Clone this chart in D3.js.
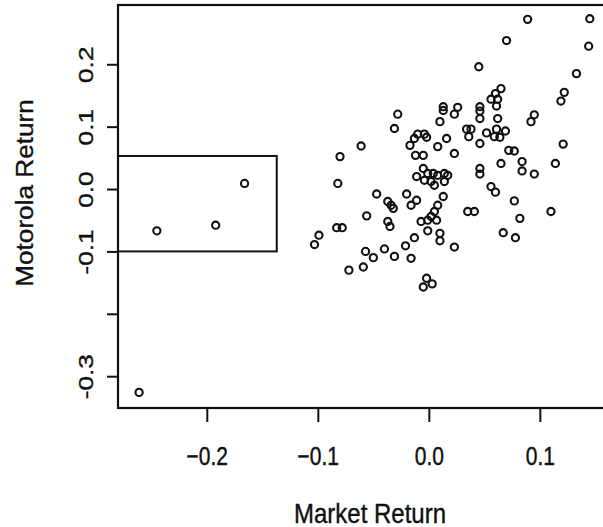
<!DOCTYPE html>
<html>
<head>
<meta charset="utf-8">
<script src="https://cdnjs.cloudflare.com/ajax/libs/d3/7.8.5/d3.min.js"></script>
<style>
  body { margin: 0; background: #fff; }
  svg { display: block; }
  text { font-family: "Liberation Sans", Arial, sans-serif; fill: #111; stroke: #111; stroke-width: 0.35px; }
</style>
</head>
<body>
<div id="chart"></div>
<script>
// market return (x) and motorola return (y)
var marketReturn = [-0.261,-0.245,-0.192,-0.166,
  -0.103,-0.099,-0.083,-0.078,-0.082,-0.080,-0.072,-0.061,-0.059,-0.057,-0.056,-0.050,
  -0.047,-0.040,-0.037,-0.034,-0.032,-0.037,-0.035,-0.031,-0.031,-0.028,-0.020,-0.021,
  -0.016,-0.017,-0.016,-0.011,-0.013,-0.013,-0.010,-0.004,-0.002,-0.012,-0.005,-0.005,
  -0.011,-0.001,0.004,0.008,0.014,0.017,-0.004,0.002,0.005,0.014,-0.007,-0.001,0.002,
  0.005,0.008,0.013,0.007,-0.001,0.010,0.010,-0.002,-0.005,0.003,0.008,0.010,0.013,
  0.013,0.016,0.023,0.023,0.026,0.023,0.034,0.038,0.036,0.035,0.041,0.045,0.046,0.046,
  0.046,0.046,0.046,0.046,0.052,0.056,0.062,0.061,0.062,0.061,0.069,0.059,0.064,0.065,
  0.060,0.056,0.060,0.065,0.067,0.070,0.072,0.077,0.077,0.078,0.082,0.084,0.084,0.089,
  0.092,0.095,0.095,0.110,0.114,0.119,0.122,0.121,0.133,0.144,0.145]
var motorolaReturn = [-0.326,-0.067,-0.058,0.009,
  -0.089,-0.074,-0.062,-0.062,0.009,0.052,-0.130,0.069,-0.125,-0.100,-0.043,-0.110,
  -0.008,-0.096,-0.020,-0.026,-0.031,-0.052,-0.060,-0.108,0.097,0.120,-0.008,-0.091,
  -0.111,0.070,-0.026,-0.018,-0.078,0.081,0.088,0.088,0.083,0.054,0.054,0.033,
  0.020,0.025,0.025,0.022,0.025,0.022,0.014,0.012,0.006,0.012,-0.052,-0.050,-0.044,
  -0.036,-0.026,-0.012,-0.050,-0.067,-0.071,-0.083,-0.143,-0.157,-0.152,0.068,0.108,0.132,
  0.126,0.081,0.057,0.120,0.131,-0.093,0.096,0.096,0.084,-0.036,-0.036,0.196,0.132,0.125,
  0.113,0.073,0.033,0.024,0.090,0.144,0.144,0.133,0.113,0.096,0.093,0.084,0.083,0.161,
  0.153,0.004,-0.005,0.041,-0.070,0.238,0.062,0.061,-0.019,-0.078,-0.047,0.044,0.029,0.272,
  0.108,0.119,0.024,-0.036,0.041,0.141,0.155,0.072,0.185,0.229,0.273]

var xTicks = [-0.2, -0.1, 0.0, 0.1]
var yTicks = [-0.3, -0.2, -0.1, 0.0, 0.1, 0.2]
var yTickLabels = { "-0.3": "-0.3", "-0.1": "-0.1", "0": "0.0", "0.1": "0.1", "0.2": "0.2" }
// highlighted box: x up to -0.137, y between -0.1 and 0.053
var boxX = [-0.28, -0.137]
var boxY = [-0.1, 0.053]

var data = marketReturn.map(function (d, i) { return { x: d, y: motorolaReturn[i] } })

var W = 603, H = 527
var svg = d3.select('#chart').append('svg')
    .attr('width', W)
    .attr('height', H)

var xScale = d3.scaleLinear()
    .domain([-0.28, 0.165])
    .range([118, 612])
var yScale = d3.scaleLinear()
    .domain([-0.351, 0.295])
    .range([408, 5])

// plot frame
svg.append('rect')
    .attr('x', xScale.range()[0])
    .attr('y', yScale.range()[1])
    .attr('width', xScale.range()[1] - xScale.range()[0])
    .attr('height', yScale.range()[0] - yScale.range()[1])
    .attr('fill', 'none')
    .attr('stroke', '#111')
    .attr('stroke-width', 2.2)

// inner box
svg.append('rect')
    .attr('x', xScale(boxX[0]))
    .attr('y', yScale(boxY[1]))
    .attr('width', xScale(boxX[1]) - xScale(boxX[0]))
    .attr('height', yScale(boxY[0]) - yScale(boxY[1]))
    .attr('fill', 'none')
    .attr('stroke', '#111')
    .attr('stroke-width', 2)

// x axis
var xAxis = d3.axisBottom(xScale)
    .tickValues(xTicks)
    .tickSize(14)
    .tickFormat(d3.format('.1f'))
var gx = svg.append('g')
    .attr('transform', 'translate(0,' + yScale.range()[0] + ')')
    .call(xAxis)
gx.select('.domain').remove()
gx.selectAll('line').attr('stroke', '#111').attr('stroke-width', 2)
gx.selectAll('text')
    .attr('y', 0).attr('dy', 0)
    .attr('transform', 'translate(0,57) scale(1,1.22)')
    .style('font-size', '21px')
    .style('font-family', '"Liberation Sans", Arial, sans-serif')
    .attr('fill', '#111')

// y axis
var yAxis = d3.axisLeft(yScale)
    .tickValues(yTicks)
    .tickSize(11)
    .tickFormat(function (d) { return yTickLabels[String(+d.toFixed(1))] || '' })
var gy = svg.append('g')
    .attr('transform', 'translate(' + xScale.range()[0] + ',0)')
    .call(yAxis)
gy.select('.domain').remove()
gy.selectAll('line').attr('stroke', '#111').attr('stroke-width', 2)
gy.selectAll('text')
    .attr('x', 0).attr('y', -25).attr('dy', 0)
    .attr('transform', 'rotate(-90) scale(1.25,1)')
    .style('text-anchor', 'middle')
    .style('font-size', '21px')
    .style('font-family', '"Liberation Sans", Arial, sans-serif')
    .attr('fill', '#111')

// axis titles
svg.append('text')
    .attr('transform', 'translate(370,523) scale(1,1.12)')
    .style('text-anchor', 'middle')
    .style('font-size', '24px')
    .text('Market Return')

svg.append('text')
    .attr('transform', 'translate(33,193) rotate(-90) scale(1.09,1)')
    .style('text-anchor', 'middle')
    .style('font-size', '24px')
    .text('Motorola Return')

// points
svg.selectAll('circle')
    .data(data)
    .enter()
  .append('circle')
    .attr('cx', function (d) { return xScale(d.x) })
    .attr('cy', function (d) { return yScale(d.y) })
    .attr('r', 3.6)
    .attr('fill', 'none')
    .attr('stroke', '#111')
    .attr('stroke-width', 2.1)
</script>
</body>
</html>
